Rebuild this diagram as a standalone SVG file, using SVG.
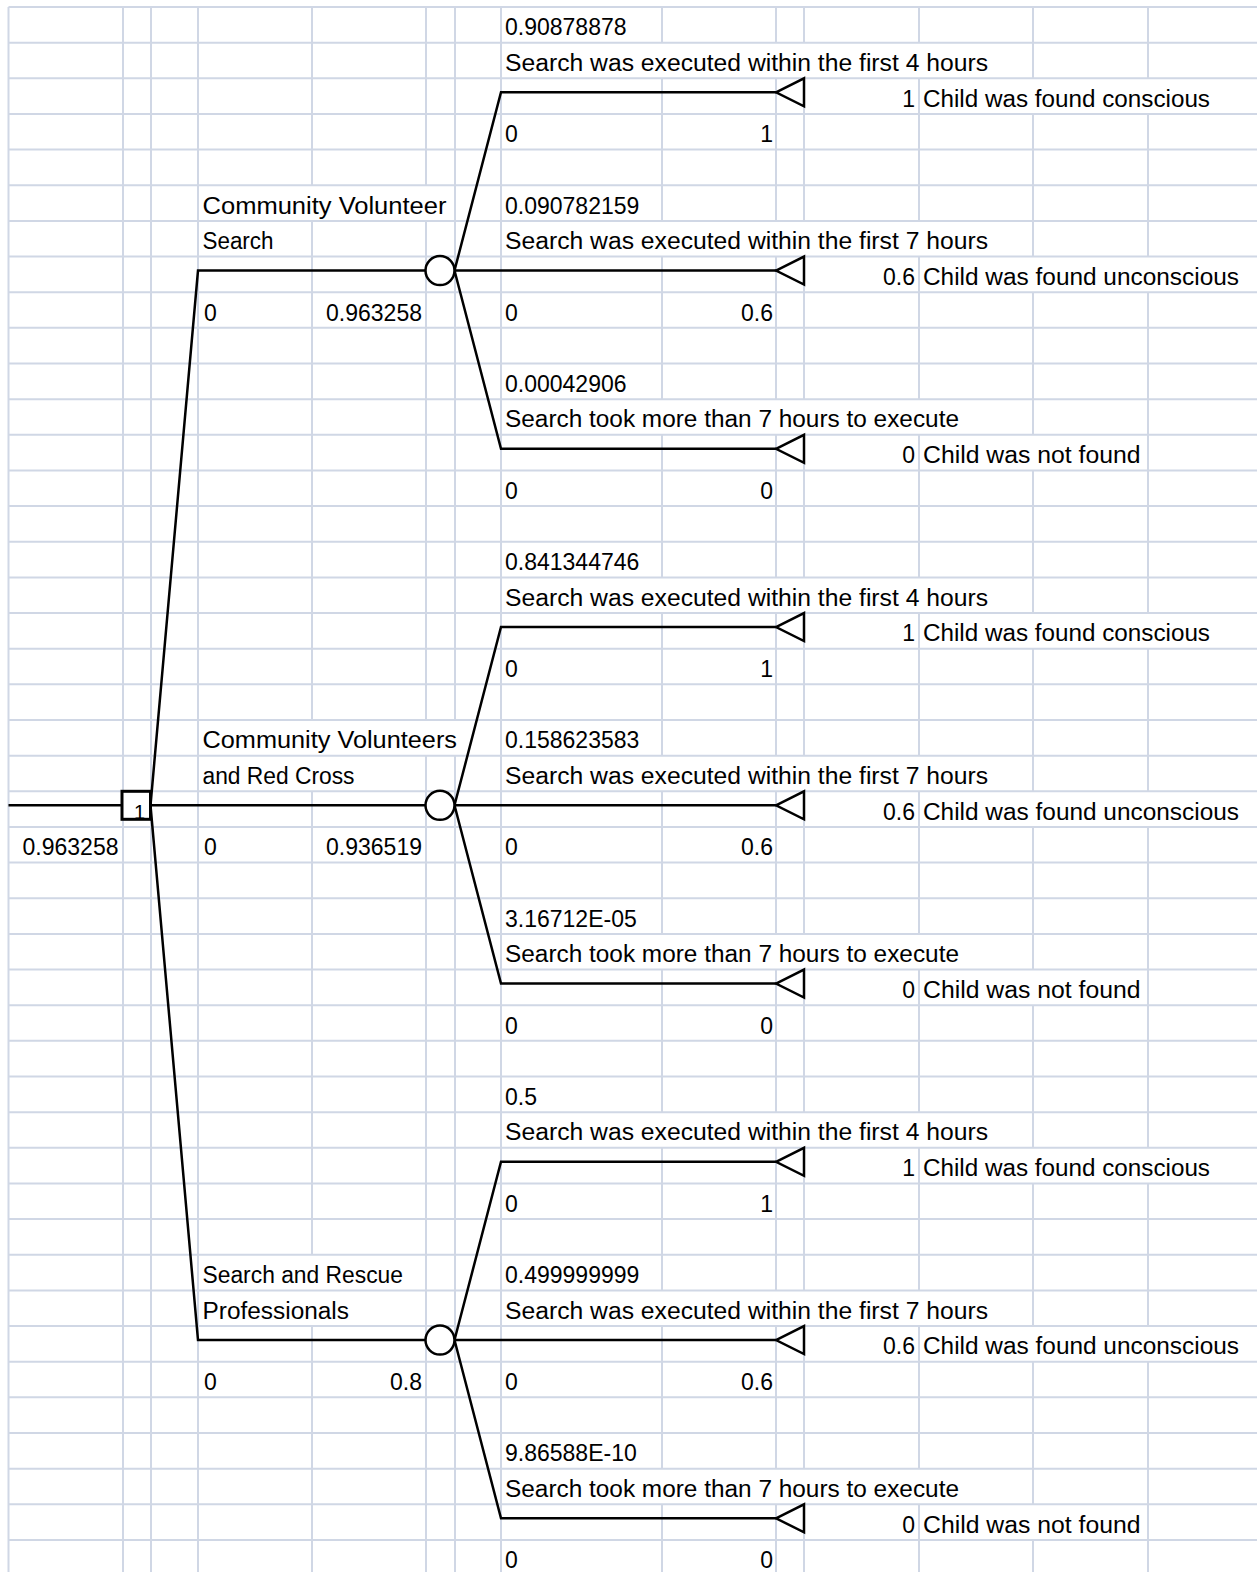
<svg xmlns="http://www.w3.org/2000/svg" width="1257" height="1572" viewBox="0 0 1257 1572">
<style>
.g{stroke:#d0d7e5;stroke-width:2;fill:none}
.t{stroke:#000;stroke-width:2.5;fill:none}
.n{stroke:#000;stroke-width:2.5;fill:#fff}
.d{stroke:#000;stroke-width:3;fill:#fff}
text{font-family:"Liberation Sans",Arial,sans-serif;font-size:23px;fill:#000}
.r{text-anchor:end}
.s{font-size:20px}
</style>
<rect width="1257" height="1572" fill="#fff"/>
<g id="grid" class="g">
<path d="M8.5 7H1257M8.5 42.65H1257M8.5 78.3H1257M8.5 113.95H1257M8.5 149.6H1257M8.5 185.25H1257M8.5 220.9H1257M8.5 256.55H1257M8.5 292.2H1257M8.5 327.85H1257M8.5 363.5H1257M8.5 399.15H1257M8.5 434.8H1257M8.5 470.45H1257M8.5 506.1H1257M8.5 541.75H1257M8.5 577.4H1257M8.5 613.05H1257M8.5 648.7H1257M8.5 684.35H1257M8.5 720H1257M8.5 755.65H1257M8.5 791.3H1257M8.5 826.95H1257M8.5 862.6H1257M8.5 898.25H1257M8.5 933.9H1257M8.5 969.55H1257M8.5 1005.2H1257M8.5 1040.85H1257M8.5 1076.5H1257M8.5 1112.15H1257M8.5 1147.8H1257M8.5 1183.45H1257M8.5 1219.1H1257M8.5 1254.75H1257M8.5 1290.4H1257M8.5 1326.05H1257M8.5 1361.7H1257M8.5 1397.35H1257M8.5 1433H1257M8.5 1468.65H1257M8.5 1504.3H1257M8.5 1539.95H1257"/>
<path d="M8.5 7V1572M123 7V1572M151 7V1572M198 7V1572M501 7V1572"/>
<path d="M312 7V185.25M312 220.9V720M312 791.3V1254.75M312 1326.05V1572"/>
<path d="M426 7V185.25M426 220.9V720M426 755.65V1572"/>
<path d="M455 7V720M455 755.65V1572"/>
<path d="M662 7V42.65M662 78.3V220.9M662 256.55V399.15M662 434.8V577.4M662 613.05V755.65M662 791.3V933.9M662 969.55V1112.15M662 1147.8V1290.4M662 1326.05V1468.65M662 1504.3V1572"/>
<path d="M776 7V42.65M776 78.3V220.9M776 256.55V399.15M776 434.8V577.4M776 613.05V755.65M776 791.3V933.9M776 969.55V1112.15M776 1147.8V1290.4M776 1326.05V1468.65M776 1504.3V1572"/>
<path d="M804 7V42.65M804 78.3V220.9M804 256.55V399.15M804 434.8V577.4M804 613.05V755.65M804 791.3V933.9M804 969.55V1112.15M804 1147.8V1290.4M804 1326.05V1468.65M804 1504.3V1572"/>
<path d="M919 7V42.65M919 78.3V220.9M919 256.55V399.15M919 434.8V577.4M919 613.05V755.65M919 791.3V933.9M919 969.55V1112.15M919 1147.8V1290.4M919 1326.05V1468.65M919 1504.3V1572"/>
<path d="M1033 7V78.3M1033 113.95V256.55M1033 292.2V434.8M1033 470.45V613.05M1033 648.7V791.3M1033 826.95V969.55M1033 1005.2V1147.8M1033 1183.45V1326.05M1033 1361.7V1504.3M1033 1539.95V1572"/>
<path d="M1148 7V78.3M1148 113.95V256.55M1148 292.2V613.05M1148 648.7V791.3M1148 826.95V1147.8M1148 1183.45V1326.05M1148 1361.7V1572"/>
</g>
<g id="connectors" class="t">
<path d="M8.5 805.3H122"/>
<path d="M150.5 805.3L198 270.55H425.5"/>
<path d="M150.5 805.3H425.5"/>
<path d="M150.5 805.3L198 1340.05H425.5"/>
<path d="M454.5 270.55L501 92.3H776M454.5 270.55H776M454.5 270.55L501 448.8H776"/>
<path d="M454.5 805.3L501 627.05H776M454.5 805.3H776M454.5 805.3L501 983.55H776"/>
<path d="M454.5 1340.05L501 1161.8H776M454.5 1340.05H776M454.5 1340.05L501 1518.3H776"/>
</g>
<g id="decision">
<rect class="d" x="122" y="791.3" width="28.5" height="28"/>
<text class="r s" x="145" y="818.5">1</text>
<text class="r" x="118.5" y="855.25">0.963258</text>
</g>
<g id="chance-volunteer">
<circle class="n" cx="440" cy="270.55" r="14.5"/>
<text x="202.5" y="213.55" textLength="244" lengthAdjust="spacingAndGlyphs">Community Volunteer</text>
<text x="202.5" y="249.2" textLength="71" lengthAdjust="spacingAndGlyphs">Search</text>
<text x="204" y="320.5">0</text>
<text class="r" x="422" y="320.5">0.963258</text>
</g>
<g id="chance-redcross">
<circle class="n" cx="440" cy="805.3" r="14.5"/>
<text x="202.5" y="748.3" textLength="254.5" lengthAdjust="spacingAndGlyphs">Community Volunteers</text>
<text x="202.5" y="783.95" textLength="152" lengthAdjust="spacingAndGlyphs">and Red Cross</text>
<text x="204" y="855.25">0</text>
<text class="r" x="422" y="855.25">0.936519</text>
</g>
<g id="chance-professionals">
<circle class="n" cx="440" cy="1340.05" r="14.5"/>
<text x="202.5" y="1283.05" textLength="200.5" lengthAdjust="spacingAndGlyphs">Search and Rescue</text>
<text x="202.5" y="1318.7" textLength="146.5" lengthAdjust="spacingAndGlyphs">Professionals</text>
<text x="204" y="1390">0</text>
<text class="r" x="422" y="1390">0.8</text>
</g>
<g id="t1">
<path class="n" d="M776 92.3L804 78.3V106.3Z"/>
<text x="505" y="35.3">0.90878878</text>
<text x="505" y="70.95" textLength="483" lengthAdjust="spacingAndGlyphs">Search was executed within the first 4 hours</text>
<text class="r" x="915" y="106.6">1</text>
<text x="923" y="106.6" textLength="287" lengthAdjust="spacingAndGlyphs">Child was found conscious</text>
<text x="505" y="142.25">0</text>
<text class="r" x="773" y="142.25">1</text>
</g>
<g id="t2">
<path class="n" d="M776 270.55L804 256.55V284.55Z"/>
<text x="505" y="213.55">0.090782159</text>
<text x="505" y="249.2" textLength="483" lengthAdjust="spacingAndGlyphs">Search was executed within the first 7 hours</text>
<text class="r" x="915" y="284.85">0.6</text>
<text x="923" y="284.85" textLength="316" lengthAdjust="spacingAndGlyphs">Child was found unconscious</text>
<text x="505" y="320.5">0</text>
<text class="r" x="773" y="320.5">0.6</text>
</g>
<g id="t3">
<path class="n" d="M776 448.8L804 434.8V462.8Z"/>
<text x="505" y="391.8">0.00042906</text>
<text x="505" y="427.45" textLength="454" lengthAdjust="spacingAndGlyphs">Search took more than 7 hours to execute</text>
<text class="r" x="915" y="463.1">0</text>
<text x="923" y="463.1" textLength="217.5" lengthAdjust="spacingAndGlyphs">Child was not found</text>
<text x="505" y="498.75">0</text>
<text class="r" x="773" y="498.75">0</text>
</g>
<g id="t4">
<path class="n" d="M776 627.05L804 613.05V641.05Z"/>
<text x="505" y="570.05">0.841344746</text>
<text x="505" y="605.7" textLength="483" lengthAdjust="spacingAndGlyphs">Search was executed within the first 4 hours</text>
<text class="r" x="915" y="641.35">1</text>
<text x="923" y="641.35" textLength="287" lengthAdjust="spacingAndGlyphs">Child was found conscious</text>
<text x="505" y="677">0</text>
<text class="r" x="773" y="677">1</text>
</g>
<g id="t5">
<path class="n" d="M776 805.3L804 791.3V819.3Z"/>
<text x="505" y="748.3">0.158623583</text>
<text x="505" y="783.95" textLength="483" lengthAdjust="spacingAndGlyphs">Search was executed within the first 7 hours</text>
<text class="r" x="915" y="819.6">0.6</text>
<text x="923" y="819.6" textLength="316" lengthAdjust="spacingAndGlyphs">Child was found unconscious</text>
<text x="505" y="855.25">0</text>
<text class="r" x="773" y="855.25">0.6</text>
</g>
<g id="t6">
<path class="n" d="M776 983.55L804 969.55V997.55Z"/>
<text x="505" y="926.55">3.16712E-05</text>
<text x="505" y="962.2" textLength="454" lengthAdjust="spacingAndGlyphs">Search took more than 7 hours to execute</text>
<text class="r" x="915" y="997.85">0</text>
<text x="923" y="997.85" textLength="217.5" lengthAdjust="spacingAndGlyphs">Child was not found</text>
<text x="505" y="1033.5">0</text>
<text class="r" x="773" y="1033.5">0</text>
</g>
<g id="t7">
<path class="n" d="M776 1161.8L804 1147.8V1175.8Z"/>
<text x="505" y="1104.8">0.5</text>
<text x="505" y="1140.45" textLength="483" lengthAdjust="spacingAndGlyphs">Search was executed within the first 4 hours</text>
<text class="r" x="915" y="1176.1">1</text>
<text x="923" y="1176.1" textLength="287" lengthAdjust="spacingAndGlyphs">Child was found conscious</text>
<text x="505" y="1211.75">0</text>
<text class="r" x="773" y="1211.75">1</text>
</g>
<g id="t8">
<path class="n" d="M776 1340.05L804 1326.05V1354.05Z"/>
<text x="505" y="1283.05">0.499999999</text>
<text x="505" y="1318.7" textLength="483" lengthAdjust="spacingAndGlyphs">Search was executed within the first 7 hours</text>
<text class="r" x="915" y="1354.35">0.6</text>
<text x="923" y="1354.35" textLength="316" lengthAdjust="spacingAndGlyphs">Child was found unconscious</text>
<text x="505" y="1390">0</text>
<text class="r" x="773" y="1390">0.6</text>
</g>
<g id="t9">
<path class="n" d="M776 1518.3L804 1504.3V1532.3Z"/>
<text x="505" y="1461.3">9.86588E-10</text>
<text x="505" y="1496.95" textLength="454" lengthAdjust="spacingAndGlyphs">Search took more than 7 hours to execute</text>
<text class="r" x="915" y="1532.6">0</text>
<text x="923" y="1532.6" textLength="217.5" lengthAdjust="spacingAndGlyphs">Child was not found</text>
<text x="505" y="1568.25">0</text>
<text class="r" x="773" y="1568.25">0</text>
</g>
</svg>
